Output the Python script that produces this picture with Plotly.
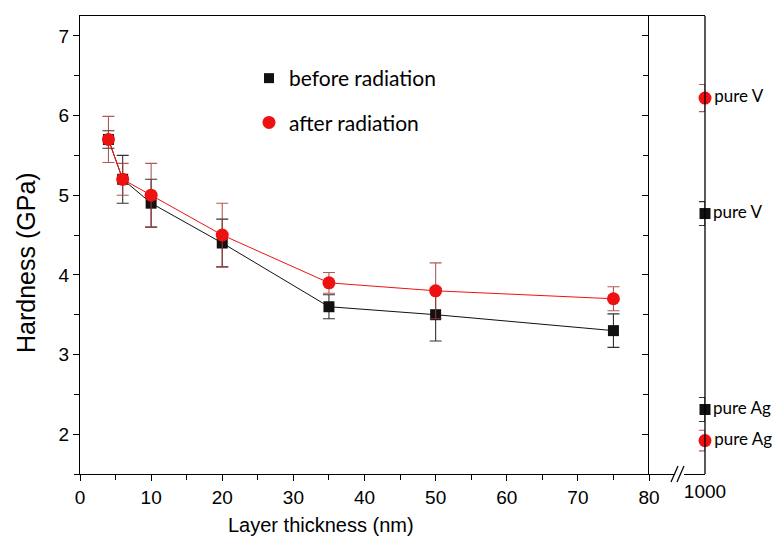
import plotly.graph_objects as go

# Hardness of multilayers vs. individual layer thickness
thickness = [4, 6, 10, 20, 35, 50, 75]
before = [5.7, 5.2, 4.9, 4.4, 3.6, 3.5, 3.3]
before_err = [0.11, 0.3, 0.3, 0.3, 0.15, 0.33, 0.21]
after = [5.7, 5.2, 5.0, 4.5, 3.9, 3.8, 3.7]
after_err = [0.29, 0.2, 0.4, 0.4, 0.13, 0.35, 0.15]

# Pure metals, plotted at the broken end of the thickness axis
pure_x = [1000, 1000]
pure_before_labels = ["pure V", "pure Ag"]
pure_before = [4.77, 2.31]
pure_before_err = [0.15, 0.15]
pure_after_labels = ["pure V", "pure Ag"]
pure_after = [6.22, 1.92]
pure_after_err = [0.17, 0.13]

x_ticks = [0, 10, 20, 30, 40, 50, 60, 70, 80]
y_ticks = [2, 3, 4, 5, 6, 7]

W, H = 784, 545
ML, MR, MT, MB = 80, 79, 16, 71
PW, PH = W - ML - MR, H - MT - MB
SPLIT = (649 - ML) / PW


def px(x):
    return (x - ML) / PW


def py(y):
    return 1 - (y - MT) / PH


BLACK = "#111111"
RED = "#ee1111"
BLACK_ERR = "#333333"
RED_ERR = "rgba(165,60,60,0.85)"
SANS = "Liberation Sans, Arial, sans-serif"
TICK_FONT = dict(family=SANS, size=19, color="black")
LABEL_FONT = dict(family="Lato, Noto Sans, sans-serif", size=17, color="black")

fig = go.Figure()

fig.add_trace(go.Scatter(
    x=thickness, y=before, mode="lines+markers", showlegend=False,
    line=dict(color=BLACK, width=1),
    marker=dict(symbol="square", size=11, color=BLACK),
    error_y=dict(type="data", array=before_err, color=BLACK_ERR, thickness=1.1, width=6),
    xaxis="x", yaxis="y", cliponaxis=False,
))
fig.add_trace(go.Scatter(
    x=thickness, y=after, mode="lines+markers", showlegend=False,
    line=dict(color=RED, width=1),
    marker=dict(symbol="circle", size=13, color=RED),
    error_y=dict(type="data", array=after_err, color=RED_ERR, thickness=1.1, width=6),
    xaxis="x", yaxis="y", cliponaxis=False,
))

fig.add_trace(go.Scatter(
    x=pure_x, y=pure_before, mode="markers+text", showlegend=False,
    text=pure_before_labels, textposition="middle right", textfont=LABEL_FONT,
    marker=dict(symbol="square", size=11, color=BLACK),
    error_y=dict(type="data", array=pure_before_err, color=BLACK_ERR, thickness=1.1, width=6),
    xaxis="x2", yaxis="y2", cliponaxis=False,
))
fig.add_trace(go.Scatter(
    x=pure_x, y=pure_after, mode="markers+text", showlegend=False,
    text=pure_after_labels, textposition="middle right", textfont=LABEL_FONT,
    marker=dict(symbol="circle", size=13, color=RED),
    error_y=dict(type="data", array=pure_after_err, color=RED_ERR, thickness=1.1, width=6),
    xaxis="x2", yaxis="y2", cliponaxis=False,
))

# legend entries (markers only)
fig.add_trace(go.Scatter(
    x=[None], y=[None], mode="markers", name="before radiation", legendgroup="b",
    marker=dict(symbol="square", size=10, color=BLACK),
))
fig.add_trace(go.Scatter(
    x=[None], y=[None], mode="markers", name="after radiation", legendgroup="a",
    marker=dict(symbol="circle", size=13, color=RED),
))

axis_common = dict(
    showline=True, linecolor="black", linewidth=1.3, showgrid=False, zeroline=False,
    tickcolor="black", tickwidth=1.3, ticklen=6, tickfont=TICK_FONT,
)
minor_common = dict(ticks="outside", ticklen=5, tickcolor="black", tickwidth=1.3)

fig.update_layout(
    width=W, height=H,
    margin=dict(l=ML, r=MR, t=MT, b=MB),
    paper_bgcolor="white", plot_bgcolor="white",
    xaxis=dict(
        domain=[0, SPLIT], range=[0, 80], anchor="y",
        tickvals=x_ticks, ticks="outside", mirror=True,
        minor=dict(dtick=5, tick0=0, **minor_common),
        **axis_common,
    ),
    yaxis=dict(
        domain=[0, 1], range=[1.5, 7.25], anchor="x",
        tickvals=y_ticks, ticks="outside", mirror=False,
        minor=dict(dtick=0.5, tick0=0, **minor_common),
        **axis_common,
    ),
    xaxis2=dict(
        domain=[SPLIT, 1], range=[990, 1000], anchor="y2",
        tickvals=[1000], ticks="", mirror=True,
        **axis_common,
    ),
    yaxis2=dict(
        domain=[0, 1], range=[1.5, 7.25], anchor="x2", side="left",
        tickvals=y_ticks, ticks="outside", showticklabels=False, mirror=False,
        minor=dict(dtick=0.5, tick0=0, **minor_common),
        **axis_common,
    ),
    legend=dict(
        x=px(249), y=py(58), xanchor="left", yanchor="top",
        bgcolor="rgba(0,0,0,0)", tracegroupgap=14,
        font=dict(family="Lato, Noto Sans, sans-serif", size=21, color="black"),
    ),
    showlegend=True,
    annotations=[
        dict(text="Layer thickness (nm)", xref="paper", yref="paper",
             x=px(321), y=py(525), xanchor="center", yanchor="middle",
             showarrow=False, font=dict(family=SANS, size=20, color="black")),
        dict(text="Hardness (GPa)", xref="paper", yref="paper", textangle=-90,
             x=px(26), y=py(263), xanchor="center", yanchor="middle",
             showarrow=False, font=dict(family=SANS, size=25, color="black")),
    ],
    shapes=[
        # right frame line of the pure-metal panel
        dict(type="line", xref="paper", yref="paper", layer="above",
             x0=1, x1=1, y0=0, y1=1, line=dict(color="black", width=1.3)),
        # axis break on the bottom line
        dict(type="rect", xref="paper", yref="paper", layer="above",
             x0=px(675), x1=px(684), y0=py(478), y1=py(470),
             fillcolor="white", line=dict(width=0)),
        dict(type="line", xref="paper", yref="paper", layer="above",
             x0=px(671), x1=px(678), y0=py(482), y1=py(466), line=dict(color="black", width=1.3)),
        dict(type="line", xref="paper", yref="paper", layer="above",
             x0=px(677), x1=px(684), y0=py(482), y1=py(466), line=dict(color="black", width=1.3)),
    ],
)

fig.write_html("out.html")
